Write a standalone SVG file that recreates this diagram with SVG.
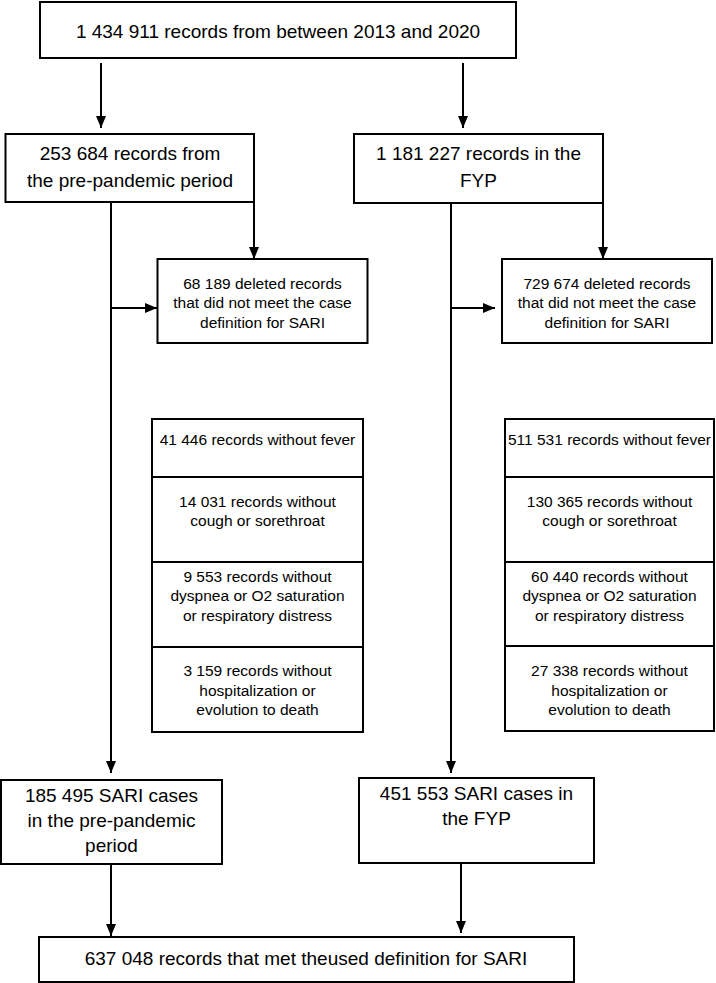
<svg xmlns="http://www.w3.org/2000/svg" width="716" height="983" viewBox="0 0 716 983">
<style>
rect{fill:#fff;stroke:#000;stroke-width:2}
text{font-family:"Liberation Sans",Arial,sans-serif;fill:#000;text-anchor:middle}
.b{font-size:19px}
.s{font-size:15.5px}
.c{fill:none;stroke:#000;stroke-width:2}
</style>
<defs>
<marker id="ah" viewBox="0 0 12 10" refX="12" refY="5" markerWidth="12" markerHeight="10" markerUnits="userSpaceOnUse" orient="auto">
<path d="M0,0 L12,5 L0,10 z" fill="#000"/>
</marker>
</defs>
<rect x="0" y="0" width="716" height="983" style="stroke:none"/>
<g id="connectors">
<path class="c" d="M101,63 V128" marker-end="url(#ah)"/>
<path class="c" d="M463,63 V128" marker-end="url(#ah)"/>
<path class="c" d="M111,202 V773" marker-end="url(#ah)"/>
<path class="c" d="M111,308 H157" marker-end="url(#ah)"/>
<path class="c" d="M254,202 V259" marker-end="url(#ah)"/>
<path class="c" d="M451,203 V773" marker-end="url(#ah)"/>
<path class="c" d="M451,308 H495" marker-end="url(#ah)"/>
<path class="c" d="M603,203 V259" marker-end="url(#ah)"/>
<path class="c" d="M111,864 V936" marker-end="url(#ah)"/>
<path class="c" d="M461,863 V933" marker-end="url(#ah)"/>
</g>
<g id="n_total">
<rect x="40" y="2" width="476" height="56"/>
<text class="b" x="278" y="38">1 434 911 records from between 2013 and 2020</text>
</g>
<g id="n_prepandemic">
<rect x="5.5" y="134" width="248.5" height="68"/>
<text class="b" x="130" y="160">253 684 records from</text>
<text class="b" x="130" y="187">the pre-pandemic period</text>
</g>
<g id="n_fyp">
<rect x="354" y="134" width="249" height="69"/>
<text class="b" x="478.5" y="160">1 181 227 records in the</text>
<text class="b" x="478.5" y="187">FYP</text>
</g>
<g id="n_deleted_pre">
<rect x="157.5" y="259" width="210" height="84"/>
<text class="s" x="262.5" y="288.5">68 189 deleted records</text>
<text class="s" x="262.5" y="307.5">that did not meet the case</text>
<text class="s" x="262.5" y="327.5">definition for SARI</text>
</g>
<g id="n_deleted_fyp">
<rect x="502" y="259" width="210" height="84"/>
<text class="s" x="607" y="288.5">729 674 deleted records</text>
<text class="s" x="607" y="307.5">that did not meet the case</text>
<text class="s" x="607" y="327.5">definition for SARI</text>
</g>
<g id="n_pre_fever">
<rect x="152" y="419" width="211" height="58"/>
<text class="s" x="257.5" y="444.5">41 446 records without fever</text>
</g>
<g id="n_pre_cough">
<rect x="152" y="477" width="211" height="85"/>
<text class="s" x="257.5" y="506.5">14 031 records without</text>
<text class="s" x="257.5" y="525.5">cough or sorethroat</text>
</g>
<g id="n_pre_dyspnea">
<rect x="152" y="562" width="211" height="85"/>
<text class="s" x="257.5" y="581.5">9 553 records without</text>
<text class="s" x="257.5" y="600.5">dyspnea or O2 saturation</text>
<text class="s" x="257.5" y="620.5">or respiratory distress</text>
</g>
<g id="n_pre_hosp">
<rect x="152" y="647" width="211" height="85"/>
<text class="s" x="257.5" y="675.5">3 159 records without</text>
<text class="s" x="257.5" y="695.5">hospitalization or</text>
<text class="s" x="257.5" y="715">evolution to death</text>
</g>
<g id="n_fyp_fever">
<rect x="505" y="419" width="209" height="58"/>
<text class="s" x="609.5" y="444.5">511 531 records without fever</text>
</g>
<g id="n_fyp_cough">
<rect x="505" y="477" width="209" height="85"/>
<text class="s" x="609.5" y="506.5">130 365 records without</text>
<text class="s" x="609.5" y="525.5">cough or sorethroat</text>
</g>
<g id="n_fyp_dyspnea">
<rect x="505" y="562" width="209" height="84"/>
<text class="s" x="609.5" y="581.5">60 440 records without</text>
<text class="s" x="609.5" y="600.5">dyspnea or O2 saturation</text>
<text class="s" x="609.5" y="620.5">or respiratory distress</text>
</g>
<g id="n_fyp_hosp">
<rect x="505" y="646" width="209" height="85"/>
<text class="s" x="609.5" y="675.5">27 338 records without</text>
<text class="s" x="609.5" y="695.5">hospitalization or</text>
<text class="s" x="609.5" y="715">evolution to death</text>
</g>
<g id="n_sari_pre">
<rect x="1" y="780" width="221" height="84"/>
<text class="b" x="111.5" y="802">185 495 SARI cases</text>
<text class="b" x="111.5" y="827">in the pre-pandemic</text>
<text class="b" x="111.5" y="852">period</text>
</g>
<g id="n_sari_fyp">
<rect x="359" y="778" width="235" height="85"/>
<text class="b" x="476.5" y="800">451 553 SARI cases in</text>
<text class="b" x="476.5" y="825">the FYP</text>
</g>
<g id="n_final">
<rect x="39" y="937" width="535" height="45"/>
<text class="b" x="306" y="965">637 048 records that met theused definition for SARI</text>
</g>
</svg>
